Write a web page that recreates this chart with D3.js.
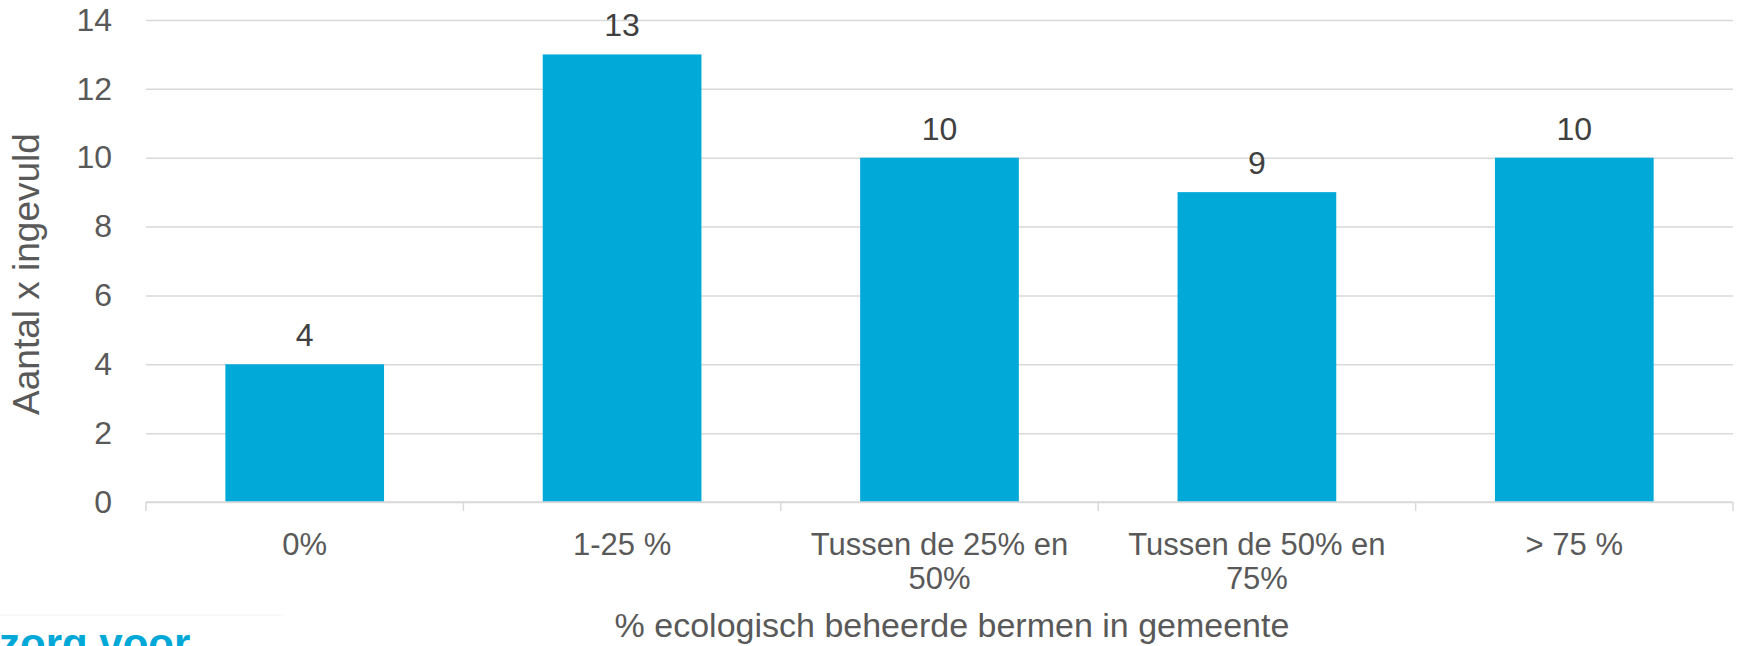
<!DOCTYPE html>
<html>
<head>
<meta charset="utf-8">
<script src="https://cdn.jsdelivr.net/npm/d3@7"></script>
<style>
    html, body { margin: 0; padding: 0; background: #fff; overflow: hidden; }
    text { font-family: "Liberation Sans", Arial, sans-serif; }
</style>
</head>
<body>
<div id="bermen-chart"></div>
<script>
// Data
const categories = ["0%", "1-25 %", "Tussen de 25% en 50%", "Tussen de 50% en 75%", "> 75 %"];
const counts = [4, 13, 10, 9, 10];
const yTicks = [0, 2, 4, 6, 8, 10, 12, 14];
const xTitle = "% ecologisch beheerde bermen in gemeente";
const yTitle = "Aantal x ingevuld";

(function () {
    const W = 1738, H = 646;
    const margin = { top: 20, right: 5, bottom: 144, left: 146 };
    const width = W - margin.left - margin.right;
    const height = H - margin.top - margin.bottom;

    const svg = d3.select("#bermen-chart")
        .append("svg")
        .attr("width", W)
        .attr("height", H);

    const g = svg.append("g")
        .attr("transform", `translate(${margin.left},${margin.top})`);

    // Scales
    const x = d3.scaleBand()
        .domain(categories)
        .range([0, width])
        .paddingInner(0.5)
        .paddingOuter(0.25);

    const y = d3.scaleLinear().domain([0, 14]).range([height, 0]);

    // Gridlines + y labels
    const yAxis = d3.axisLeft(y)
        .tickValues(yTicks)
        .tickSize(-width)
        .tickPadding(34);
    g.append("g")
        .attr("class", "y-axis")
        .call(yAxis)
        .call((s) => s.select(".domain").remove())
        .call((s) => s.selectAll(".tick line")
            .attr("stroke", "#d9d9d9")
            .attr("stroke-width", 1.5))
        .call((s) => s.selectAll(".tick text")
            .attr("fill", "#595959")
            .style("font-size", "32px"));

    // Bars
    g.selectAll("rect.bar")
        .data(counts)
        .enter()
        .append("rect")
        .attr("class", "bar")
        .attr("x", (d, i) => x(categories[i]))
        .attr("y", (d) => y(d))
        .attr("width", x.bandwidth())
        .attr("height", (d) => y(0) - y(d))
        .attr("fill", "#00a9d8");

    // Value labels
    g.selectAll("text.value")
        .data(counts)
        .enter()
        .append("text")
        .attr("class", "value")
        .attr("x", (d, i) => x(categories[i]) + x.bandwidth() / 2)
        .attr("y", (d) => y(d) - 18)
        .attr("text-anchor", "middle")
        .attr("fill", "#404040")
        .style("font-size", "32px")
        .text((d) => d);

    // X axis: baseline + tick marks on band edges
    const step = x.step();
    const edges = d3.range(categories.length + 1).map((k) => x(categories[0]) - step * x.paddingOuter() + k * step);
    const xAxisG = g.append("g").attr("transform", `translate(0,${height})`);
    xAxisG.append("line")
        .attr("x1", 0).attr("x2", width)
        .attr("stroke", "#d9d9d9").attr("stroke-width", 1.5);
    xAxisG.selectAll("line.tick")
        .data(edges)
        .enter()
        .append("line")
        .attr("class", "tick")
        .attr("x1", (d) => d).attr("x2", (d) => d)
        .attr("y1", 0).attr("y2", 9)
        .attr("stroke", "#d9d9d9").attr("stroke-width", 1.5);

    // Category labels, wrapped
    const labels = xAxisG.selectAll("text.cat")
        .data(categories)
        .enter()
        .append("text")
        .attr("class", "cat")
        .attr("x", (d) => x(d) + x.bandwidth() / 2)
        .attr("y", 53)
        .attr("text-anchor", "middle")
        .attr("fill", "#595959")
        .style("font-size", "31px");

    labels.each(function (d) {
        const el = d3.select(this);
        const words = d.split(" ");
        const maxW = step - 20;
        let line = [];
        let tspan = el.append("tspan").attr("x", el.attr("x")).attr("dy", 0);
        words.forEach((w) => {
            line.push(w);
            tspan.text(line.join(" "));
            if (tspan.node().getComputedTextLength() > maxW && line.length > 1) {
                line.pop();
                tspan.text(line.join(" "));
                line = [w];
                tspan = el.append("tspan").attr("x", el.attr("x")).attr("dy", 34).text(w);
            }
        });
    });

    // Axis titles
    svg.append("text")
        .attr("x", 952)
        .attr("y", 637)
        .attr("text-anchor", "middle")
        .attr("fill", "#595959")
        .style("font-size", "34px")
        .text(xTitle);

    svg.append("text")
        .attr("transform", `translate(39, 274) rotate(-90)`)
        .attr("text-anchor", "middle")
        .attr("fill", "#595959")
        .style("font-size", "37px")
        .text(yTitle);

    // Logo fragment at the bottom-left edge
    svg.append("line")
        .attr("x1", 0).attr("x2", 283)
        .attr("y1", 615).attr("y2", 615)
        .attr("stroke", "#f3f3f3").attr("stroke-width", 1);
    svg.append("text")
        .attr("x", -1)
        .attr("y", 658)
        .attr("fill", "#00a8d8")
        .style("font-size", "42px")
        .style("font-weight", "bold")
        .text("zorg voor");
})();
</script>
</body>
</html>
